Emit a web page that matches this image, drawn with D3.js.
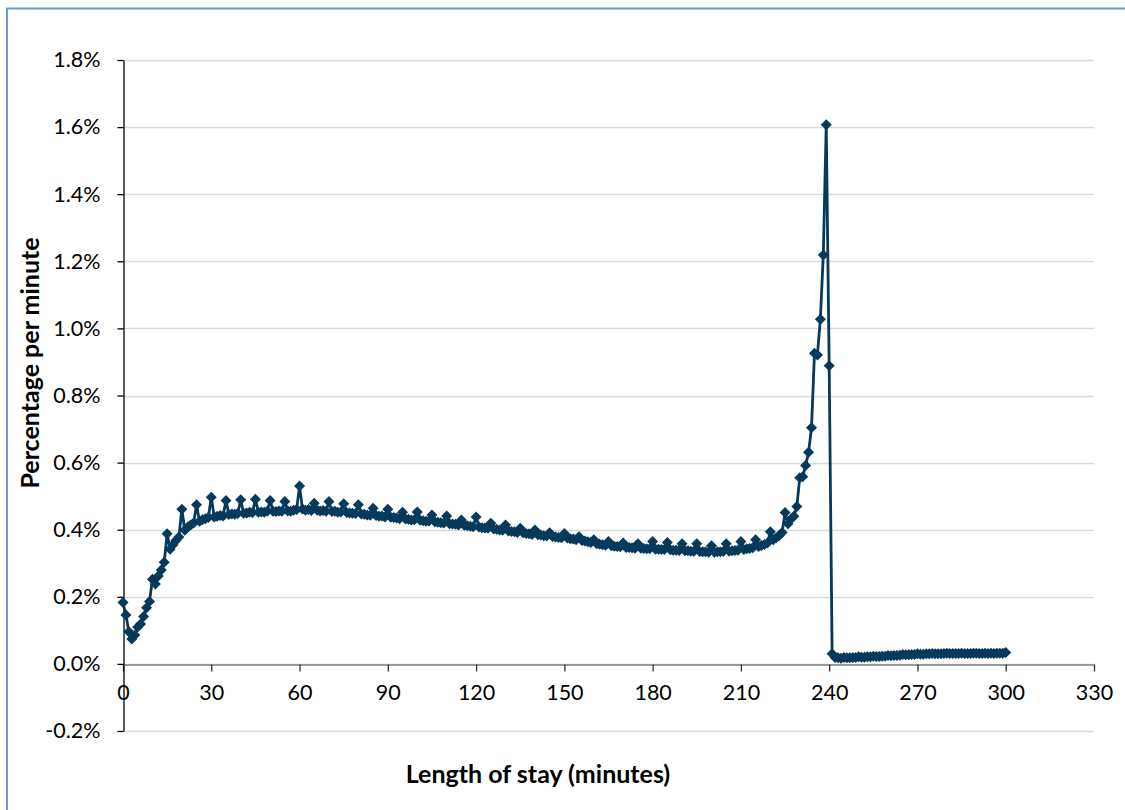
<!DOCTYPE html>
<html>
<head>
<meta charset="utf-8">
<script src="https://cdn.jsdelivr.net/npm/d3@7"></script>
<style>
  html, body { margin: 0; padding: 0; background: #ffffff; }
  svg { display: block; }
  text { font-family: Lato, "Open Sans", sans-serif; fill: #000; }
</style>
</head>
<body>
<svg id="chart" width="1125" height="810"></svg>
<script>
// Share of visits ending at each minute of stay (0–300 minutes)
const minutes = d3.range(0, 301);
const pctPerMinute = [
  0.183,0.146,0.096,0.074,0.086,0.110,0.119,0.141,0.167,0.186,
  0.252,0.238,0.262,0.280,0.303,0.388,0.342,0.355,0.368,0.378,
  0.461,0.398,0.408,0.414,0.420,0.474,0.425,0.430,0.433,0.436,
  0.497,0.438,0.440,0.442,0.441,0.487,0.445,0.447,0.446,0.448,
  0.489,0.449,0.450,0.452,0.451,0.491,0.452,0.453,0.452,0.455,
  0.487,0.455,0.454,0.456,0.455,0.484,0.456,0.455,0.458,0.460,
  0.530,0.462,0.458,0.460,0.457,0.479,0.458,0.456,0.457,0.455,
  0.484,0.454,0.455,0.452,0.453,0.477,0.451,0.450,0.449,0.448,
  0.474,0.447,0.446,0.444,0.443,0.464,0.442,0.440,0.441,0.438,
  0.461,0.437,0.436,0.435,0.433,0.452,0.432,0.431,0.429,0.430,
  0.453,0.428,0.427,0.425,0.426,0.444,0.424,0.422,0.421,0.420,
  0.441,0.418,0.417,0.416,0.414,0.429,0.413,0.412,0.410,0.409,
  0.438,0.408,0.406,0.405,0.404,0.419,0.402,0.401,0.399,0.398,
  0.414,0.396,0.395,0.394,0.392,0.404,0.391,0.389,0.388,0.386,
  0.399,0.385,0.384,0.382,0.381,0.391,0.380,0.378,0.377,0.376,
  0.389,0.375,0.373,0.372,0.370,0.379,0.368,0.366,0.364,0.362,
  0.370,0.358,0.357,0.355,0.354,0.365,0.352,0.351,0.350,0.349,
  0.360,0.347,0.347,0.346,0.345,0.358,0.345,0.344,0.343,0.343,
  0.365,0.342,0.342,0.341,0.341,0.362,0.340,0.339,0.339,0.338,
  0.358,0.337,0.337,0.336,0.336,0.358,0.335,0.334,0.334,0.333,
  0.352,0.333,0.334,0.334,0.335,0.358,0.336,0.337,0.338,0.339,
  0.365,0.341,0.343,0.344,0.346,0.370,0.350,0.353,0.356,0.360,
  0.394,0.370,0.376,0.383,0.392,0.451,0.418,0.432,0.440,0.469,
  0.555,0.558,0.591,0.631,0.704,0.926,0.921,1.027,1.219,1.607,
  0.889,0.030,0.019,0.018,0.017,0.019,0.018,0.018,0.019,0.019,
  0.021,0.020,0.020,0.021,0.021,0.023,0.022,0.022,0.023,0.023,
  0.025,0.024,0.025,0.025,0.026,0.028,0.027,0.027,0.028,0.028,
  0.030,0.029,0.029,0.030,0.030,0.031,0.030,0.030,0.030,0.031,
  0.032,0.031,0.031,0.031,0.031,0.032,0.031,0.031,0.031,0.032,
  0.032,0.031,0.031,0.032,0.031,0.032,0.031,0.032,0.032,0.032,
  0.034
];
const xTicks = [0, 30, 60, 90, 120, 150, 180, 210, 240, 270, 300, 330];
const yTicks = [-0.2, 0, 0.2, 0.4, 0.6, 0.8, 1.0, 1.2, 1.4, 1.6, 1.8];
const xTitle = "Length of stay (minutes)";
const yTitle = "Percentage per minute";

const seriesColor = "#063a5c";
const svg = d3.select("#chart");

// outer frame
svg.append("rect")
  .attr("x", 7).attr("y", 8.5)
  .attr("width", 1130).attr("height", 820)
  .attr("fill", "#fff")
  .attr("stroke", "#6f9bd4").attr("stroke-width", 2);

const x = d3.scaleLinear().domain([0, 330]).range([123, 1094]);
const y = d3.scaleLinear().domain([-0.2, 1.8]).range([731, 60]);

// horizontal gridlines
svg.append("g").selectAll("line")
  .data(yTicks)
  .join("line")
  .attr("x1", x(0)).attr("x2", x(330))
  .attr("y1", d => Math.round(y(d)) + 0.5).attr("y2", d => Math.round(y(d)) + 0.5)
  .attr("stroke", "#d9d9d9").attr("stroke-width", 1.5);

// x axis sits on the 0% line
const xAxis = svg.append("g")
  .attr("transform", `translate(0,${Math.round(y(0)) + 0.5})`)
  .call(d3.axisBottom(x).tickValues(xTicks).tickSize(7).tickPadding(13).tickSizeOuter(0));
xAxis.select(".domain").attr("stroke", "#808080").attr("stroke-width", 1.3);
xAxis.selectAll(".tick line").attr("stroke", "#303030").attr("stroke-width", 1.3);
xAxis.selectAll(".tick text").style("font-size", "21.5px").style("font-family", "Lato, sans-serif").attr("fill", "#000");

// y axis
const yAxis = svg.append("g")
  .attr("transform", `translate(${Math.round(x(0)) + 0.5},0)`)
  .call(d3.axisLeft(y).tickValues(yTicks).tickSize(6).tickPadding(17).tickSizeOuter(0)
    .tickFormat(d => d.toFixed(1) + "%"));
yAxis.select(".domain").attr("stroke", "#000").attr("stroke-width", 1.3);
yAxis.selectAll(".tick line").attr("stroke", "#000").attr("stroke-width", 1.3);
yAxis.selectAll(".tick text").style("font-size", "21.5px").style("font-family", "Lato, sans-serif").attr("fill", "#000");

// series line
const points = minutes.map((m, i) => [m, pctPerMinute[i]]);
svg.append("path")
  .datum(points)
  .attr("fill", "none")
  .attr("stroke", seriesColor)
  .attr("stroke-width", 2.8)
  .attr("stroke-linejoin", "round")
  .attr("d", d3.line().x(d => x(d[0])).y(d => y(d[1])));

// diamond markers
const r = 5.5;
const diamond = `M0,${-r}L${r},0L0,${r}L${-r},0Z`;
svg.append("g").selectAll("path")
  .data(points)
  .join("path")
  .attr("transform", d => `translate(${x(d[0])},${y(d[1])})`)
  .attr("d", diamond)
  .attr("fill", seriesColor);

// axis titles
svg.append("text")
  .attr("x", 538).attr("y", 783)
  .attr("text-anchor", "middle")
  .style("font-size", "25px").style("font-weight", "bold")
  .text(xTitle);

svg.append("text")
  .attr("transform", `translate(39,363) rotate(-90)`)
  .attr("text-anchor", "middle")
  .style("font-size", "25px").style("font-weight", "bold")
  .text(yTitle);
</script>
</body>
</html>
